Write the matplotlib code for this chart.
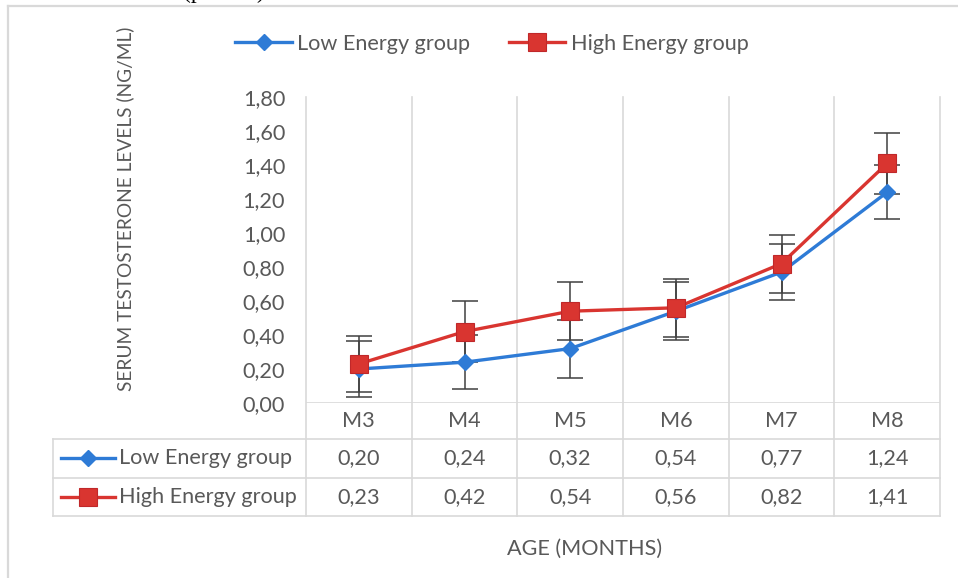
import numpy as np
import matplotlib.pyplot as plt
import matplotlib.transforms as mtransforms

plt.rcParams['font.family'] = ['Lato', 'DejaVu Sans']

# Data
months = ['M3', 'M4', 'M5', 'M6', 'M7', 'M8']
low_energy = [0.20, 0.24, 0.32, 0.54, 0.77, 1.24]
high_energy = [0.23, 0.42, 0.54, 0.56, 0.82, 1.41]
low_err = [0.165, 0.16, 0.17, 0.17, 0.165, 0.16]
high_err = [0.165, 0.18, 0.17, 0.17, 0.17, 0.18]

BLUE = '#2E7BD6'
RED = '#D93530'
RED_EDGE = '#C0282A'
TXT = '#595959'
GRID = '#D9D9D9'
FS = 15.6

W, H = 958, 578
fig = plt.figure(figsize=(W / 100, H / 100), dpi=100)

# overlay axes in pixel coordinates (y down) for table / frame
ov = fig.add_axes([0, 0, 1, 1])
ov.set_xlim(0, W)
ov.set_ylim(H, 0)
ov.axis('off')

# plot area
left, right, top, bottom = 306, 940, 97, 403
ax = fig.add_axes([left / W, 1 - bottom / H, (right - left) / W, (bottom - top) / H])
ax.set_zorder(2)
ax.patch.set_alpha(0)

x = np.arange(len(months))
ax.errorbar(x, low_energy, yerr=low_err, fmt='none', ecolor='#404040',
            elinewidth=1.1, capsize=9.5, capthick=1.1, zorder=2)
ax.errorbar(x, high_energy, yerr=high_err, fmt='none', ecolor='#404040',
            elinewidth=1.1, capsize=9.5, capthick=1.1, zorder=2)
l1, = ax.plot(x, low_energy, color=BLUE, lw=2.4, marker='D', ms=8.5,
              mfc=BLUE, mec=BLUE, zorder=3, label='Low Energy group')
l2, = ax.plot(x, high_energy, color=RED, lw=2.4, marker='s', ms=13,
              mfc=RED, mec=RED_EDGE, mew=0.8, zorder=4, label='High Energy group')

ax.set_xlim(-0.5, len(months) - 0.5)
ax.set_ylim(0, 1.8)
ax.set_yticks(np.arange(0, 1.81, 0.2))
ax.set_yticklabels([f'{v:.2f}'.replace('.', ',') for v in np.arange(0, 1.81, 0.2)],
                   fontsize=FS, color=TXT)
ax.tick_params(axis='y', length=0, pad=15)
ax.set_xticks([])
for s in ax.spines.values():
    s.set_visible(False)
ax.axhline(0, color=GRID, lw=1.2, zorder=1)

# vertical category gridlines running down through the data table
blend = mtransforms.blended_transform_factory(ax.transData, ov.transData)
for k in range(len(months) + 1):
    ov.plot([k - 0.5, k - 0.5], [top, 516], color=GRID, lw=1.2, transform=blend,
            clip_on=False, zorder=1)

# data table
row_y = [439, 478, 516]
for yy in row_y:
    ov.plot([53, right], [yy, yy], color=GRID, lw=1.2, zorder=1)
ov.plot([53, 53], [439, 516], color=GRID, lw=1.2, zorder=1)

for i, m in enumerate(months):
    ov.text(i, 421, m, transform=blend, ha='center', va='center', fontsize=FS, color=TXT)
    ov.text(i, 458, f'{low_energy[i]:.2f}'.replace('.', ','), transform=blend,
            ha='center', va='center', fontsize=FS, color=TXT)
    ov.text(i, 497, f'{high_energy[i]:.2f}'.replace('.', ','), transform=blend,
            ha='center', va='center', fontsize=FS, color=TXT)

ov.plot([61, 88, 115], [458] * 3, color=BLUE, lw=2.4, marker='D', ms=8.5,
        markevery=[1], mfc=BLUE, mec=BLUE)
ov.plot([61, 88, 115], [497] * 3, color=RED, lw=2.4, marker='s', ms=13,
        markevery=[1], mfc=RED, mec=RED_EDGE, mew=0.8)
ov.text(119, 458, 'Low Energy group', ha='left', va='center', fontsize=FS, color=TXT)
ov.text(119, 497, 'High Energy group', ha='left', va='center', fontsize=FS, color=TXT)

# legend on top
leg = fig.legend(handles=[l1, l2], loc='center', bbox_to_anchor=(492 / W, 1 - 44 / H),
                 ncol=2, frameon=False, fontsize=FS, handlelength=2.6,
                 handletextpad=0.25, columnspacing=1.8, labelcolor=TXT)

# axis titles
ov.text(125, 209, 'SERUM TESTOSTERONE LEVELS (NG/ML)', rotation=90, ha='center',
        va='center', fontsize=13.8, color=TXT)
ov.text(585, 549, 'AGE (MONTHS)', ha='center', va='center', fontsize=FS, color=TXT)

# chart frame
ov.plot([8, W], [6, 6], color=GRID, lw=1.6)
ov.plot([8, 8], [6, H], color=GRID, lw=1.6)
# cropped text from the page above
ov.text(183, 3, '(p<0.05)', ha='left', va='bottom', fontsize=17,
        family='Liberation Serif', color='black')

fig.savefig('out.png', dpi=100)
